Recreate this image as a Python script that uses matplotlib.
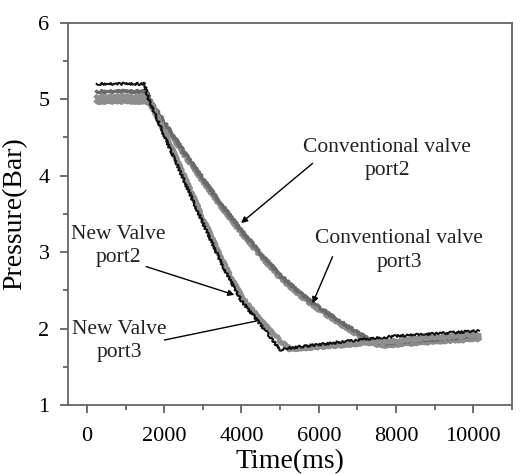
import matplotlib
matplotlib.use("Agg")
import matplotlib.pyplot as plt
from matplotlib.ticker import MultipleLocator

plt.rcParams['font.family'] = ['Liberation Serif', 'DejaVu Serif']

# New valve port2 (black)
nv2_t = [250, 1500, 1560, 2000, 2500, 3000, 3500, 4000, 4500, 5000, 5150, 6000, 7000, 8000, 9000, 10150]
nv2_p = [5.20, 5.20, 5.05, 4.52, 3.95, 3.38, 2.83, 2.36, 2.05, 1.72, 1.74, 1.79, 1.85, 1.90, 1.93, 1.97]
# New valve port3 (gray)
nv3_t = [250, 1550, 1620, 2000, 2500, 3000, 3500, 4000, 4500, 5000, 5250, 6000, 7000, 8000, 9000, 10150]
nv3_p = [5.03, 5.03, 4.98, 4.58, 4.01, 3.44, 2.89, 2.42, 2.10, 1.84, 1.73, 1.76, 1.80, 1.84, 1.88, 1.92]
# Conventional valve port2
cv2_t = [250, 1550, 1620, 2000, 2500, 3000, 3500, 4000, 4500, 5000, 5500, 6000, 6500, 7000, 7400, 7700, 8500, 9300, 10150]
cv2_p = [5.10, 5.10, 5.00, 4.70, 4.32, 3.96, 3.61, 3.28, 2.98, 2.70, 2.47, 2.28, 2.11, 1.95, 1.83, 1.81, 1.84, 1.87, 1.90]
# Conventional valve port3
cv3_t = [250, 1550, 1620, 2000, 2500, 3000, 3500, 4000, 4500, 5000, 5500, 6000, 6500, 7000, 7400, 7700, 8500, 9300, 10150]
cv3_p = [4.97, 4.97, 4.95, 4.67, 4.29, 3.93, 3.58, 3.25, 2.95, 2.67, 2.44, 2.25, 2.08, 1.92, 1.80, 1.78, 1.81, 1.84, 1.86]

fig = plt.figure(figsize=(5.24, 4.74), dpi=100)
ax = fig.add_axes([0.129, 0.1456, 0.848, 0.8065])

def draw(t, p, color, lw, z):
    ln, = ax.plot(t, p, color=color, lw=lw, zorder=z, solid_joinstyle='round')
    ln.set_sketch_params(scale=1.2, length=2.5, randomness=3)
    return ln

draw(cv3_t, cv3_p, '#8c8c8c', 3.4, 2)
draw(cv2_t, cv2_p, '#6a6a6a', 2.3, 3)
draw(nv3_t, nv3_p, '#8f8f8f', 3.4, 4)
draw(nv2_t, nv2_p, '#111111', 1.4, 5)

ax.set_xlim(-500, 11000)
ax.set_ylim(1, 6)
ax.xaxis.set_major_locator(MultipleLocator(2000))
ax.xaxis.set_minor_locator(MultipleLocator(1000))
ax.yaxis.set_major_locator(MultipleLocator(1))
ax.yaxis.set_minor_locator(MultipleLocator(0.5))
ax.tick_params(which='major', direction='out', length=6, width=1.2, color='#555555',
               labelsize=16, pad=7)
ax.tick_params(axis='x', which='major', pad=10)
ax.tick_params(which='minor', direction='out', length=3.5, width=1.2, color='#555555')
for s in ax.spines.values():
    s.set_color('#666666')
    s.set_linewidth(1.3)

ax.set_xlabel('Time(ms)', fontsize=20, labelpad=2)
ax.set_ylabel('Pressure(Bar)', fontsize=20, labelpad=8)

txt_kw = dict(fontsize=15.5, ha='center', va='center', linespacing=1.3, color='#222222')
arr = dict(arrowstyle='-|>', color='black', lw=1.0, mutation_scale=9, shrinkA=0, shrinkB=0)

ax.text(7767, 4.22, 'Conventional valve\nport2', **txt_kw)
ax.annotate('', xy=(3990, 3.38), xytext=(5840, 4.16), arrowprops=arr)

ax.text(8078, 3.02, 'Conventional valve\nport3', **txt_kw)
ax.annotate('', xy=(5840, 2.33), xytext=(6357, 2.94), arrowprops=arr)

ax.text(822, 3.08, 'New Valve\nport2', **txt_kw)
ax.annotate('', xy=(3817, 2.44), xytext=(1535, 2.81), arrowprops=arr)

ax.text(845, 1.84, 'New Valve\nport3', **txt_kw)
ax.annotate('', xy=(4592, 2.12), xytext=(2008, 1.85), arrowprops=arr)

fig.savefig('out.png', dpi=100)
